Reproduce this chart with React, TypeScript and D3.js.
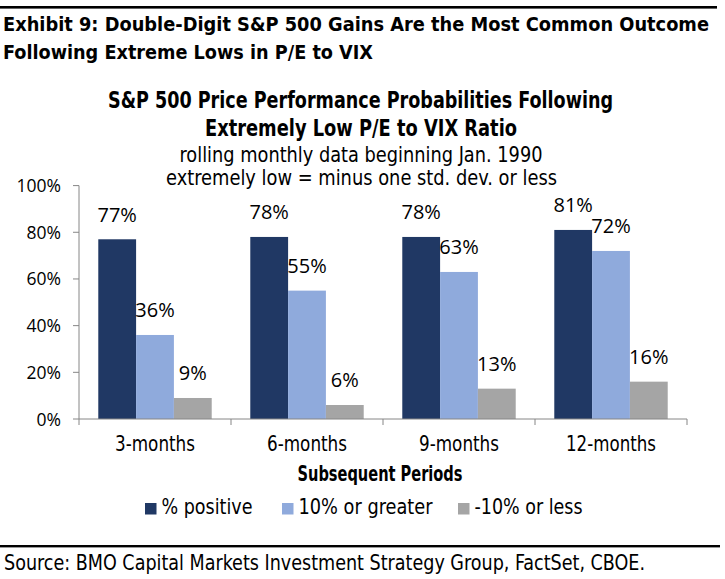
import React from "react";
import * as d3 from "d3";

const categories = ["3-months", "6-months", "9-months", "12-months"];
const seriesNames = ["% positive", "10% or greater", "-10% or less"];
const positive = [77, 78, 78, 81];
const greater10 = [36, 55, 63, 72];
const lessMinus10 = [9, 6, 13, 16];
const yTicks = [0, 20, 40, 60, 80, 100];
const colors = ["#203864", "#8FAADC", "#A5A5A5"];

const COND = "'DejaVu Sans Condensed', 'DejaVu Sans', sans-serif";
const LBL = "'Open Sans', 'Noto Sans', sans-serif";

export default function App() {
  const W = 725, H = 579;
  const x0 = 79, x1 = 687, yBase = 419, yTop = 185.6;
  const x = d3.scaleBand<string>().domain(categories).range([x0, x1]).paddingInner(0).paddingOuter(0);
  const inner = d3.scaleBand<number>().domain([0, 1, 2]).range([0, x.bandwidth()]).paddingOuter(0.51).paddingInner(0);
  const y = d3.scaleLinear().domain([0, 100]).range([yBase, yTop]);
  const series = [positive, greater10, lessMinus10];

  const legendX = [145, 282, 458];
  const legendW = [91, 134, 108];
  const catW = [80, 80, 80, 90];

  return (
    <div style={{ position: "fixed", left: 0, top: 0, width: W, height: H, background: "#fff" }}>
      <svg width={W} height={H} viewBox={`0 0 ${W} ${H}`} style={{ display: "block" }}>
        <rect x={0} y={6} width={717} height={2.6} fill="#000" />
        <text x={3} y={31} fontFamily={COND} fontWeight="bold" fontSize={20} fill="#000" textLength={706} lengthAdjust="spacingAndGlyphs">
          Exhibit 9: Double-Digit S&amp;P 500 Gains Are the Most Common Outcome
        </text>
        <text x={3} y={59} fontFamily={COND} fontWeight="bold" fontSize={20} fill="#000" textLength={370} lengthAdjust="spacingAndGlyphs">
          Following Extreme Lows in P/E to VIX
        </text>

        <g fontFamily={COND} textAnchor="middle" fill="#000">
          <text x={360.5} y={108} fontWeight="bold" fontSize={22.5} textLength={505} lengthAdjust="spacingAndGlyphs">S&amp;P 500 Price Performance Probabilities Following</text>
          <text x={361} y={136} fontWeight="bold" fontSize={22.5} textLength={312} lengthAdjust="spacingAndGlyphs">Extremely Low P/E to VIX Ratio</text>
          <text x={361} y={161.5} fontSize={21} textLength={363} lengthAdjust="spacingAndGlyphs">rolling monthly data beginning Jan. 1990</text>
          <text x={361.5} y={185} fontSize={21} textLength={391} lengthAdjust="spacingAndGlyphs">extremely low = minus one std. dev. or less</text>
        </g>

        {/* y axis */}
        <line x1={x0} x2={x0} y1={yTop} y2={yBase} stroke="#868686" strokeWidth={1} />
        {yTicks.map((t) => (
          <g key={t}>
            <line x1={x0 - 6} x2={x0} y1={y(t)} y2={y(t)} stroke="#868686" />
            <text x={61} y={y(t) + 6.5} textAnchor="end" fontFamily={LBL} fontSize={17.5} fill="#000">
              {t}%
            </text>
          </g>
        ))}

        {/* bars */}
        {categories.map((c, ci) => (
          <g key={c}>
            {series.map((s, si) => {
              const bx = (x(c) as number) + (inner(si) as number);
              const bw = inner.bandwidth();
              return (
                <g key={si}>
                  <rect x={bx} y={y(s[ci])} width={bw} height={yBase - y(s[ci])} fill={colors[si]} />
                  <text x={bx + bw / 2} y={y(s[ci]) - 17.5} textAnchor="middle" fontFamily={LBL} fontSize={20} fill="#000">
                    {s[ci]}%
                  </text>
                </g>
              );
            })}
          </g>
        ))}

        {/* x axis */}
        <line x1={x0} x2={x1} y1={yBase} y2={yBase} stroke="#868686" />
        {[...categories.map((c) => x(c) as number), x1].map((tx, i) => (
          <line key={i} x1={tx} x2={tx} y1={yBase} y2={yBase + 6} stroke="#868686" />
        ))}
        {categories.map((c, i) => (
          <text key={c} x={(x(c) as number) + x.bandwidth() / 2} y={450.5} textAnchor="middle" fontFamily={COND} fontSize={21} fill="#000" textLength={catW[i]} lengthAdjust="spacingAndGlyphs">
            {c}
          </text>
        ))}
        <text x={380} y={481} textAnchor="middle" fontFamily={COND} fontWeight="bold" fontSize={21} fill="#000" textLength={165} lengthAdjust="spacingAndGlyphs">
          Subsequent Periods
        </text>

        {/* legend */}
        {seriesNames.map((n, i) => (
          <g key={n}>
            <rect x={legendX[i]} y={503} width={11.5} height={11.5} fill={colors[i]} />
            <text x={legendX[i] + 16.5} y={514} fontFamily={COND} fontSize={21} fill="#000" textLength={legendW[i]} lengthAdjust="spacingAndGlyphs">
              {n}
            </text>
          </g>
        ))}

        <rect x={0} y={545} width={720} height={2.4} fill="#000" />
        <text x={4} y={569.5} fontFamily={COND} fontSize={20.5} fill="#000" textLength={641} lengthAdjust="spacingAndGlyphs">
          Source: BMO Capital Markets Investment Strategy Group, FactSet, CBOE.
        </text>
      </svg>
    </div>
  );
}
